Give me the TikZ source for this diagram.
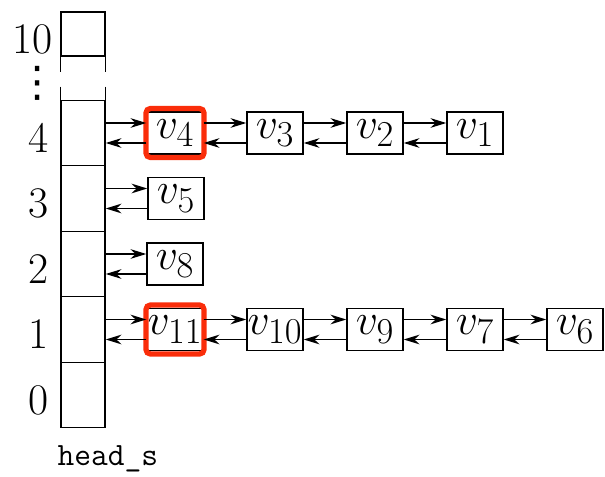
\documentclass[tikz,border=0pt]{standalone}
\usepackage{fontspec}
\usetikzlibrary{positioning,arrows.meta}
\newfontfamily\dejavu{DejaVu Sans}
\definecolor{hlred}{RGB}{250,45,10}

\begin{document}
\begin{tikzpicture}[node distance=2cm, line width=0.8pt,
    >={Stealth[length=9pt,width=5.5pt]},
    cell/.style={rectangle, draw, minimum width=0.88cm, minimum height=1.31cm, inner sep=0pt},
    elem/.style={rectangle, draw, minimum width=1.12cm, minimum height=0.84cm, inner sep=0pt, font=\Huge},
    hilite/.style={rectangle, draw=hlred, line width=3pt, rounded corners=2.5pt, minimum width=1.16cm, minimum height=0.98cm},
    label distance=0.22cm,
    every label/.style={font=\Huge, inner sep=0pt, yshift=-0.1cm}]

    \useasboundingbox (0,0) rectangle (12.1,9.52);

    % the bucket array
    \node(head-0)[cell, label=left:0] at (1.66,1.62) {};
    \node(head-1)[cell, above of=head-0, node distance=1.31cm, label=left:1] {};
    \node(head-2)[cell, above of=head-1, node distance=1.31cm, label=left:2] {};
    \node(head-3)[cell, above of=head-2, node distance=1.31cm, label=left:3] {};
    \node(head-4)[cell, above of=head-3, node distance=1.31cm, label=left:4] {};
    \node(head-10)[cell, minimum height=0.88cm, label={[label distance=0.14cm]left:10}] at (1.66,8.84) {};

    \draw[dash pattern=on 0.3cm off 0.3cm] (head-10.south west) -- (head-4.north west);
    \draw[dash pattern=on 0.3cm off 0.3cm] (head-10.south east) -- (head-4.north east);
    \node(dots)[inner sep=0pt, font=\fontsize{24}{28}\selectfont\dejavu] at (0.76,7.86) {⋮};

    \node(head-name)[anchor=base west, inner sep=0pt, font=\fontsize{18.5}{22}\selectfont\ttfamily] at (1.14,0.22) {head\_s};

    % bucket 4
    \node(v-4)[elem, right of=head-4, node distance=1.84cm] {$v_4$};
    \node(v-3)[elem, right of=v-4] {$v_3$};
    \node(v-2)[elem, right of=v-3] {$v_2$};
    \node(v-1)[elem, right of=v-2] {$v_1$};

    % bucket 3 and 2
    \node(v-5)[elem, right of=head-3, node distance=1.86cm] {$v_5$};
    \node(v-8)[elem, right of=head-2, node distance=1.84cm] {$v_8$};

    % bucket 1
    \node(v-11)[elem, right of=head-1, node distance=1.84cm] {$v_{11}$};
    \node(v-10)[elem, right of=v-11] {$v_{10}$};
    \node(v-9)[elem, right of=v-10] {$v_9$};
    \node(v-7)[elem, right of=v-9] {$v_7$};
    \node(v-6)[elem, right of=v-7] {$v_6$};

    \node(mark-4)[hilite] at (v-4) {};
    \node(mark-11)[hilite] at (v-11) {};

    \draw[->] ([yshift=2mm]head-4.east) -- ([yshift=2mm]v-4.west);
    \draw[->] ([yshift=-2mm]v-4.west) -- ([yshift=-2mm]head-4.east);
    \draw[->] ([yshift=2mm]v-4.east) -- ([yshift=2mm]v-3.west);
    \draw[->] ([yshift=-2mm]v-3.west) -- ([yshift=-2mm]v-4.east);
    \draw[->] ([yshift=2mm]v-3.east) -- ([yshift=2mm]v-2.west);
    \draw[->] ([yshift=-2mm]v-2.west) -- ([yshift=-2mm]v-3.east);
    \draw[->] ([yshift=2mm]v-2.east) -- ([yshift=2mm]v-1.west);
    \draw[->] ([yshift=-2mm]v-1.west) -- ([yshift=-2mm]v-2.east);

    \draw[->] ([yshift=2mm]head-3.east) -- ([yshift=2mm]v-5.west);
    \draw[->] ([yshift=-2mm]v-5.west) -- ([yshift=-2mm]head-3.east);
    \draw[->] ([yshift=2mm]head-2.east) -- ([yshift=2mm]v-8.west);
    \draw[->] ([yshift=-2mm]v-8.west) -- ([yshift=-2mm]head-2.east);

    \draw[->] ([yshift=2mm]head-1.east) -- ([yshift=2mm]v-11.west);
    \draw[->] ([yshift=-2mm]v-11.west) -- ([yshift=-2mm]head-1.east);
    \draw[->] ([yshift=2mm]v-11.east) -- ([yshift=2mm]v-10.west);
    \draw[->] ([yshift=-2mm]v-10.west) -- ([yshift=-2mm]v-11.east);
    \draw[->] ([yshift=2mm]v-10.east) -- ([yshift=2mm]v-9.west);
    \draw[->] ([yshift=-2mm]v-9.west) -- ([yshift=-2mm]v-10.east);
    \draw[->] ([yshift=2mm]v-9.east) -- ([yshift=2mm]v-7.west);
    \draw[->] ([yshift=-2mm]v-7.west) -- ([yshift=-2mm]v-9.east);
    \draw[->] ([yshift=2mm]v-7.east) -- ([yshift=2mm]v-6.west);
    \draw[->] ([yshift=-2mm]v-6.west) -- ([yshift=-2mm]v-7.east);
  \end{tikzpicture}
\end{document}
